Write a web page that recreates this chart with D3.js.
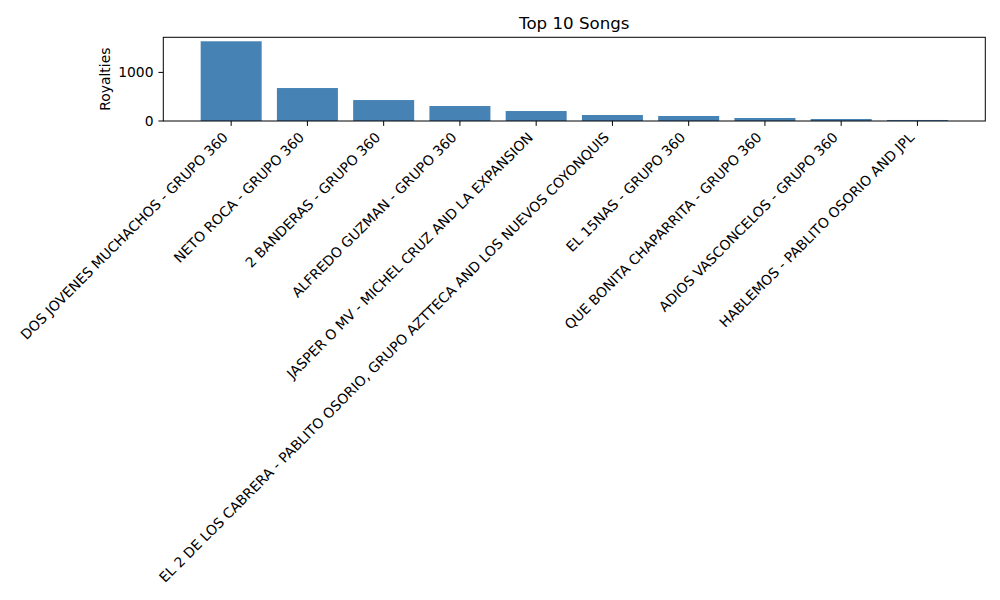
<!DOCTYPE html>
<html><head><meta charset="utf-8">
<script src="https://cdn.jsdelivr.net/npm/d3@7"></script>
<style>body{margin:0;background:#fff}svg{display:block}text{font-family:"DejaVu Sans",sans-serif;fill:#000}</style>
</head><body><svg id="c" width="1000" height="600"></svg>
<script>
const songs = [
  "DOS JOVENES MUCHACHOS - GRUPO 360",
  "NETO ROCA - GRUPO 360",
  "2 BANDERAS - GRUPO 360",
  "ALFREDO GUZMAN - GRUPO 360",
  "JASPER O MV - MICHEL CRUZ AND LA EXPANSION",
  "EL 2 DE LOS CABRERA - PABLITO OSORIO, GRUPO AZTTECA AND LOS NUEVOS COYONQUIS",
  "EL 15NAS - GRUPO 360",
  "QUE BONITA CHAPARRITA - GRUPO 360",
  "ADIOS VASCONCELOS - GRUPO 360",
  "HABLEMOS - PABLITO OSORIO AND JPL"
];
const royalties = [1640, 678, 431, 308, 205, 123, 103, 62, 41, 21];
const yTicks = [0, 1000];
const titleText = "Top 10 Songs";
const yLabel = "Royalties";

const svg = d3.select("#c");
const L = 163.3, R = 985.3, T = 37.3, B = 121;
const n = songs.length;
const x = d3.scaleLinear().domain([-0.89, n - 1 + 0.89]).range([L, R]);
const ymax = d3.max(royalties) * 1.05;
const y = d3.scaleLinear().domain([0, ymax]).range([B, T]);
const bw = x(0.8) - x(0);

svg.append("g").selectAll("rect").data(royalties).join("rect")
  .attr("x", (d, i) => x(i) - bw / 2).attr("width", bw)
  .attr("y", d => y(d)).attr("height", d => y(0) - y(d))
  .attr("fill", "steelblue");

// frame
svg.append("rect").attr("x", L).attr("y", T).attr("width", R - L).attr("height", B - T)
  .attr("fill", "none").attr("stroke", "#000").attr("stroke-width", 1);

const fs = 13.89;
// y axis
const ya = svg.append("g");
yTicks.forEach(t => {
  ya.append("line").attr("x1", L - 4.9).attr("x2", L).attr("y1", y(t)).attr("y2", y(t)).attr("stroke", "#000");
  ya.append("text").attr("x", L - 9.8).attr("y", y(t)).attr("dy", "0.35em")
    .attr("text-anchor", "end").attr("font-size", fs).text(t);
});
svg.append("text").attr("transform", `translate(110,${(T + B) / 2}) rotate(-90)`)
  .attr("text-anchor", "middle").attr("font-size", fs).text(yLabel);

// x axis
const xa = svg.append("g");
songs.forEach((s, i) => {
  const tx = x(i);
  xa.append("line").attr("x1", tx).attr("x2", tx).attr("y1", B).attr("y2", B + 4.9).attr("stroke", "#000");
  const ax = tx - 0.707 * 3.3, ay = B + 9.8 + 0.707 * 10.6;
  xa.append("text").attr("transform", `translate(${ax},${ay}) rotate(-45)`)
    .attr("text-anchor", "end").attr("font-size", fs).text(s);
});

svg.append("text").attr("x", (L + R) / 2).attr("y", T - 8).attr("text-anchor", "middle")
  .attr("font-size", 16.67).text(titleText);
</script></body></html>
